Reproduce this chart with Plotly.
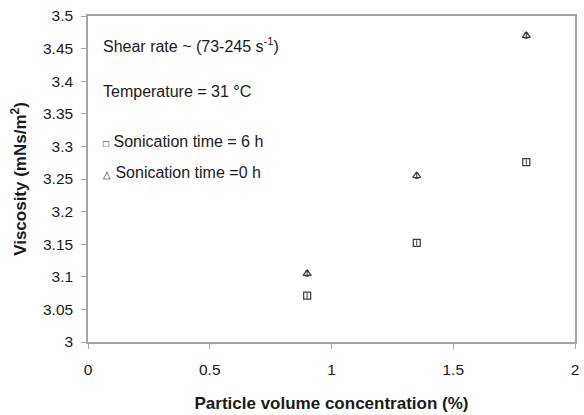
import plotly.graph_objects as go

# Data
conc = [0.9, 1.35, 1.8]
visc_6h = [3.071, 3.152, 3.276]
visc_0h = [3.105, 3.255, 3.470]
err_6h = [0.004, 0.004, 0.004]
err_0h = [0.004, 0.004, 0.004]

x_ticks = [0, 0.5, 1, 1.5, 2]
x_ticktext = ["0", "0.5", "1", "1.5", "2"]
y_ticks = [3, 3.05, 3.1, 3.15, 3.2, 3.25, 3.3, 3.35, 3.4, 3.45, 3.5]
y_ticktext = ["3", "3.05", "3.1", "3.15", "3.2", "3.25", "3.3", "3.35", "3.4", "3.45", "3.5"]

FONT = "Liberation Sans, Arial, sans-serif"
MARK = "#3a3a3a"
AXIS = "#a6a6a6"
TXT = "#1a1a1a"

fig = go.Figure()
fig.add_trace(go.Scatter(
    x=conc, y=visc_6h, mode="markers", name="Sonication time = 6 h",
    marker=dict(symbol="square-open", size=7, color=MARK, line=dict(width=1.2, color=MARK)),
    error_y=dict(type="data", array=err_6h, color=MARK, thickness=1, width=0),
))
fig.add_trace(go.Scatter(
    x=conc, y=visc_0h, mode="markers", name="Sonication time =0 h",
    marker=dict(symbol="triangle-up-open", size=7, color=MARK, line=dict(width=1.2, color=MARK)),
    error_y=dict(type="data", array=err_0h, color=MARK, thickness=1, width=2),
))

annots = [
    dict(text="Shear rate ~ (73-245 s<sup>-1</sup>)", y=45),
    dict(text="Temperature = 31 °C", y=92),
    dict(text="<span style='font-size:10px'>□</span> Sonication time = 6 h", y=142),
    dict(text="<span style='font-size:10px'>△</span> Sonication time =0 h", y=173),
]
for a in annots:
    fig.add_annotation(
        text=a["text"], xref="paper", yref="paper",
        x=(101 - 88) / 491, y=(344 - a["y"]) / 328,
        xanchor="left", yanchor="middle", showarrow=False,
        font=dict(family=FONT, size=16, color=TXT),
    )

fig.update_xaxes(
    range=[0, 2], tickvals=x_ticks, ticktext=x_ticktext,
    showline=True, linecolor=AXIS, linewidth=1.5, mirror=True,
    ticks="outside", ticklen=5, tickcolor=AXIS, tickwidth=1,
    ticklabelstandoff=8,
    showgrid=False, zeroline=False,
    tickfont=dict(family=FONT, size=15.5, color=TXT),
    title=dict(text="<b>Particle volume concentration (%)</b>",
               font=dict(family=FONT, size=17, color=TXT), standoff=20),
)
fig.update_yaxes(
    range=[3, 3.5], tickvals=y_ticks, ticktext=y_ticktext,
    showline=True, linecolor=AXIS, linewidth=1.5, mirror=True,
    ticks="outside", ticklen=5, tickcolor=AXIS, tickwidth=1,
    ticklabelstandoff=5,
    showgrid=False, zeroline=False,
    tickfont=dict(family=FONT, size=15.5, color=TXT),
    title=dict(text="<b>Viscosity (mNs/m<sup>2</sup>)</b>",
               font=dict(family=FONT, size=17, color=TXT), standoff=12),
)
fig.update_layout(
    width=584, height=415,
    margin=dict(l=88, r=5, t=16, b=71),
    plot_bgcolor="white", paper_bgcolor="white",
    showlegend=False,
)
fig.write_html("out.html")
